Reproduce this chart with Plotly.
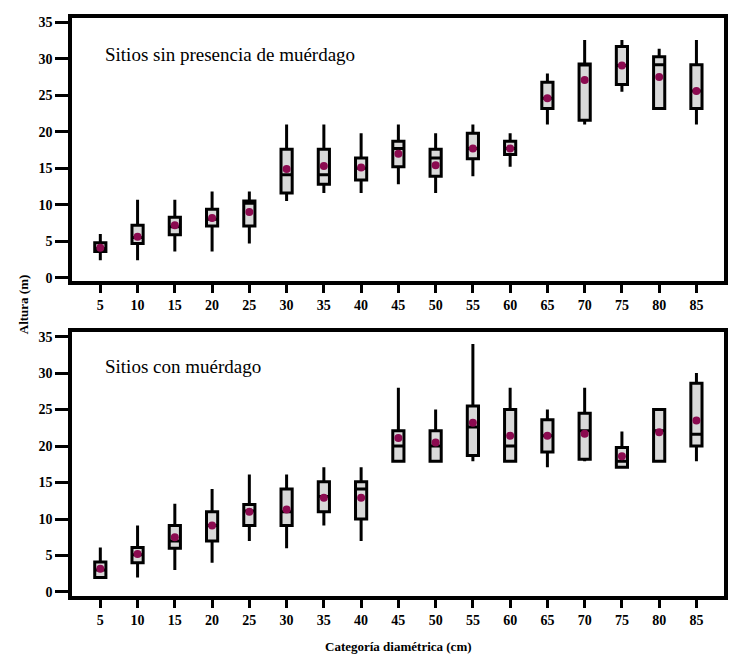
import plotly.graph_objects as go
from plotly.subplots import make_subplots

# categorías diamétricas (cm)
categorias = [5, 10, 15, 20, 25, 30, 35, 40, 45, 50, 55, 60, 65, 70, 75, 80, 85]

# Sitios sin presencia de muérdago
sin_min = [2.4, 2.4, 3.6, 3.6, 4.7, 10.5, 11.6, 11.6, 12.8, 11.6, 13.9, 15.2, 21.0, 21.0, 25.5, 23.2, 21.0]
sin_q1 = [3.6, 4.7, 5.9, 7.1, 7.1, 11.6, 12.8, 13.4, 15.2, 13.9, 16.3, 16.9, 23.2, 21.6, 26.5, 23.2, 23.2]
sin_med = [4.0, 5.5, 7.0, 8.0, 10.2, 14.1, 14.1, 15.0, 17.7, 16.4, 17.7, 17.7, 24.6, 29.3, 29.1, 29.2, 25.6]
sin_q3 = [4.8, 7.2, 8.3, 9.4, 10.5, 17.6, 17.6, 16.4, 18.7, 17.6, 19.8, 18.7, 26.8, 29.3, 31.7, 30.3, 29.2]
sin_max = [6.0, 10.7, 10.7, 11.8, 11.8, 21.0, 21.0, 19.8, 21.0, 19.8, 21.0, 19.8, 28.0, 32.6, 32.6, 31.4, 32.6]
sin_media = [4.1, 5.6, 7.2, 8.2, 9.0, 14.9, 15.3, 15.1, 17.0, 15.4, 17.7, 17.7, 24.6, 27.1, 29.1, 27.5, 25.6]

# Sitios con muérdago
con_min = [2.0, 2.0, 3.0, 4.0, 7.0, 6.0, 9.1, 7.0, 17.9, 17.9, 17.9, 17.9, 17.1, 17.9, 17.1, 17.9, 17.9]
con_q1 = [2.0, 4.0, 6.0, 7.0, 9.1, 9.1, 11.0, 10.0, 17.9, 17.9, 18.7, 17.9, 19.2, 18.2, 17.1, 17.9, 20.0]
con_med = [3.0, 5.1, 7.0, 9.1, 11.1, 11.0, 13.1, 14.1, 20.0, 20.0, 22.6, 20.0, 21.4, 22.1, 17.9, 22.1, 21.6]
con_q3 = [4.1, 6.1, 9.1, 11.0, 12.0, 14.1, 15.1, 15.1, 22.1, 22.1, 25.5, 25.0, 23.6, 24.5, 19.8, 25.0, 28.6]
con_max = [6.1, 9.1, 12.1, 14.1, 16.1, 16.1, 17.1, 17.1, 28.0, 25.0, 34.0, 28.0, 25.0, 28.0, 22.0, 25.0, 30.0]
con_media = [3.2, 5.2, 7.5, 9.1, 11.0, 11.3, 12.9, 12.9, 21.1, 20.5, 23.2, 21.4, 21.4, 21.7, 18.6, 21.9, 23.5]

paneles = [
    ("Sitios sin presencia de muérdago", sin_min, sin_q1, sin_med, sin_q3, sin_max, sin_media),
    ("Sitios con muérdago", con_min, con_q1, con_med, con_q3, con_max, con_media),
]

serif = "Liberation Serif"

fig = make_subplots(rows=2, cols=1)

for i, (titulo, mn, q1, med, q3, mx, media) in enumerate(paneles, start=1):
    fig.add_trace(go.Box(
        x=categorias, q1=q1, median=med, q3=q3,
        lowerfence=mn, upperfence=mx,
        width=1.5, whiskerwidth=0,
        fillcolor="#d9d9d9",
        line=dict(color="black", width=3),
        boxpoints=False, showlegend=False,
    ), row=i, col=1)
    fig.add_trace(go.Scatter(
        x=categorias, y=media, mode="markers",
        marker=dict(color="#8b0a50", size=8),
        showlegend=False,
    ), row=i, col=1)

# ejes comunes
eje_x = dict(
    range=[1.2, 88.7], tickvals=categorias, ticks="outside", ticklen=8, tickwidth=3,
    tickcolor="black", showline=True, mirror=True, linecolor="black", linewidth=3.5,
    showgrid=False, zeroline=False,
    tickfont=dict(family=serif, size=14, color="black", weight="bold"),
)
eje_y = dict(
    tickvals=[0, 5, 10, 15, 20, 25, 30, 35], ticks="outside", ticklen=13, tickwidth=3,
    tickcolor="black", showline=True, mirror=True, linecolor="black", linewidth=3.5,
    showgrid=False, zeroline=False,
    tickfont=dict(family=serif, size=14, color="black", weight="bold"),
)

# la página añade 8 px de margen, se compensa aquí
fig.update_layout(
    width=729, height=660,
    margin=dict(l=64, r=13, t=6, b=72),
    plot_bgcolor="white", paper_bgcolor="white",
    xaxis=dict(eje_x, domain=[0, 1], anchor="y"),
    yaxis=dict(eje_y, domain=[0.545, 1], range=[-0.45, 35.6], anchor="x"),
    xaxis2=dict(eje_x, domain=[0, 1], anchor="y2"),
    yaxis2=dict(eje_y, domain=[0, 0.457], range=[-0.55, 35.65], anchor="x2"),
)

# textos de cada panel
fig.add_annotation(text=paneles[0][0], xref="paper", yref="paper", x=0.047, y=0.937,
                   xanchor="left", yanchor="middle", showarrow=False,
                   font=dict(family=serif, size=19, color="black"))
fig.add_annotation(text=paneles[1][0], xref="paper", yref="paper", x=0.047, y=0.397,
                   xanchor="left", yanchor="middle", showarrow=False,
                   font=dict(family=serif, size=19, color="black"))

# títulos de ejes
fig.add_annotation(text="Altura (m)", xref="paper", yref="paper", x=-0.075, y=0.505,
                   textangle=-90, xanchor="center", yanchor="middle", showarrow=False,
                   font=dict(family=serif, size=13, color="black", weight="bold"))
fig.add_annotation(text="Categoría diamétrica (cm)", xref="paper", yref="paper", x=0.5, y=-0.087,
                   xanchor="center", yanchor="middle", showarrow=False,
                   font=dict(family=serif, size=13, color="black", weight="bold"))

fig.write_html("out.html")
